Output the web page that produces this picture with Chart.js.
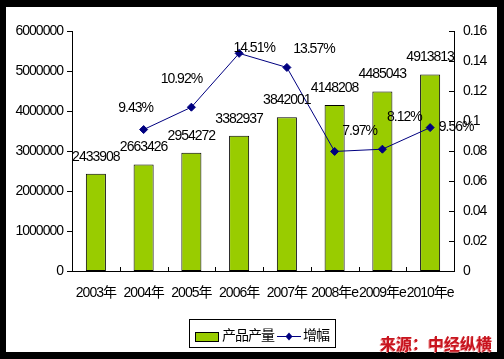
<!DOCTYPE html>
<html>
<head>
<meta charset="utf-8">
<script src="https://cdn.jsdelivr.net/npm/chart.js@4.4.1/dist/chart.umd.min.js"></script>
<style>
  html, body { margin: 0; padding: 0; background: #000; }
  canvas { display: block; }
</style>
</head>
<body>
<canvas id="chart" width="504" height="359"></canvas>
<script>
// --- Data ---
const years = ['2003年', '2004年', '2005年', '2006年', '2007年', '2008年e', '2009年e', '2010年e'];
const output = [2433908, 2663426, 2954272, 3382937, 3842001, 4148208, 4485043, 4913813];
const growth = [null, 0.0943, 0.1092, 0.1451, 0.1357, 0.0797, 0.0812, 0.0956];
const leftTicks = [0, 1000000, 2000000, 3000000, 4000000, 5000000, 6000000];
const rightTicks = [0, 0.02, 0.04, 0.06, 0.08, 0.1, 0.12, 0.14, 0.16];

// label nudges for the growth line (dx, dy from the point), as placed in the original
const growthLabelShift = [null, [-8, -21], [-10, -28], [15, -5], [27, -18], [25, -20], [22, -32], [26, 0]];

const FONT = '"Liberation Sans", Arial, "Noto Sans CJK SC", sans-serif';
const GREEN = '#99cc00';
const NAVY = '#000080';

// --- Plugins ---
const framePlugin = {
    id: 'frame',
    beforeDraw(chart) {
        const ctx = chart.ctx;
        ctx.save();
        ctx.fillStyle = '#000';
        ctx.fillRect(0, 0, chart.width, chart.height);
        ctx.fillStyle = '#fff';
        ctx.fillRect(6, 7, 491, 345);
        ctx.restore();
        ctx.letterSpacing = '-1px';
    }
};

const tickMarks = {
    id: 'tickMarks',
    afterDraw(chart) {
        const ctx = chart.ctx;
        const { y, y1, x } = chart.scales;
        const area = chart.chartArea;
        ctx.save();
        ctx.strokeStyle = '#000';
        ctx.lineWidth = 1;
        ctx.beginPath();
        // left axis: outside
        y.ticks.forEach(t => {
            const py = Math.round(y.getPixelForValue(t.value)) + 0.5;
            ctx.moveTo(area.left - 5, py); ctx.lineTo(area.left, py);
        });
        // right axis: inside
        y1.ticks.forEach(t => {
            const py = Math.round(y1.getPixelForValue(t.value)) + 0.5;
            ctx.moveTo(area.right - 5, py); ctx.lineTo(area.right, py);
        });
        // category axis: inside, at category boundaries
        const half = (x.getPixelForValue(1) - x.getPixelForValue(0)) / 2;
        for (let i = 1; i <= years.length; i++) {
            const px = Math.round(x.getPixelForValue(i) - half) + 0.5;
            ctx.moveTo(px, area.bottom - 4); ctx.lineTo(px, area.bottom);
        }
        ctx.stroke();
        ctx.restore();
    }
};

const valueLabels = {
    id: 'valueLabels',
    afterDatasetsDraw(chart) {
        const ctx = chart.ctx;
        ctx.save();
        ctx.font = '14px ' + FONT;
        ctx.fillStyle = '#000';
        ctx.textAlign = 'center';
        ctx.textBaseline = 'middle';
        chart.getDatasetMeta(0).data.forEach((bar, i) => {
            ctx.fillText(String(output[i]), bar.x, bar.y - 17);
        });
        chart.getDatasetMeta(1).data.forEach((pt, i) => {
            if (growth[i] == null) return;
            const [dx, dy] = growthLabelShift[i];
            ctx.fillText((growth[i] * 100).toFixed(2) + '%', pt.x + dx, pt.y + dy);
        });
        ctx.restore();
    }
};

const legendBox = {
    id: 'legendBox',
    afterDraw(chart) {
        const ctx = chart.ctx;
        ctx.save();
        ctx.strokeStyle = '#000';
        ctx.lineWidth = 1;
        ctx.strokeRect(189.5, 319.5, 146, 28);
        // bar swatch
        ctx.fillStyle = GREEN;
        ctx.fillRect(195, 332, 23, 9);
        ctx.strokeRect(195.5, 332.5, 23, 9);
        // line swatch
        ctx.strokeStyle = NAVY;
        ctx.beginPath();
        ctx.moveTo(277, 336.5); ctx.lineTo(301, 336.5);
        ctx.stroke();
        ctx.fillStyle = NAVY;
        ctx.beginPath();
        ctx.moveTo(289, 332.5); ctx.lineTo(292.5, 336.5); ctx.lineTo(289, 340.5); ctx.lineTo(285.5, 336.5);
        ctx.closePath();
        ctx.fill();
        // texts
        ctx.fillStyle = '#000';
        ctx.font = '14px ' + FONT;
        ctx.textAlign = 'left';
        ctx.textBaseline = 'middle';
        ctx.fillText(chart.data.datasets[0].label, 222, 336);
        ctx.fillText(chart.data.datasets[1].label, 303, 336);
        // source note
        ctx.letterSpacing = '0px';
        ctx.font = 'bold 16px "Noto Sans CJK SC", sans-serif';
        ctx.shadowColor = 'rgba(235,140,140,0.9)';
        ctx.shadowOffsetX = -1;
        ctx.shadowOffsetY = 1;
        ctx.fillStyle = '#c8141e';
        ctx.fillText('来源：中经纵横', 380, 344);
        ctx.restore();
    }
};

// --- Chart ---
new Chart(document.getElementById('chart'), {
    data: {
        labels: years,
        datasets: [
            {
                type: 'bar', label: '产品产量', data: output, yAxisID: 'y', order: 1,
                backgroundColor: GREEN, borderColor: '#000', borderWidth: 1, borderSkipped: false,
                categoryPercentage: 1, barPercentage: 0.42
            },
            {
                type: 'line', label: '增幅', data: growth, yAxisID: 'y1', order: 0,
                borderColor: NAVY, borderWidth: 1, backgroundColor: NAVY,
                pointStyle: 'rectRot', pointRadius: 4, pointBackgroundColor: NAVY, pointBorderColor: NAVY,
                tension: 0, spanGaps: false
            }
        ]
    },
    options: {
        responsive: false,
        animation: false,
        layout: { padding: { top: 31, left: 0, right: 0, bottom: 0 } },
        plugins: { legend: { display: false }, tooltip: { enabled: false }, title: { display: false } },
        scales: {
            x: {
                offset: true,
                grid: { display: false, drawTicks: false },
                border: { display: true, color: '#000', width: 1 },
                ticks: { color: '#000', font: { family: FONT, size: 14 }, padding: 14, autoSkip: false, maxRotation: 0, minRotation: 0 },
                afterFit: s => { s.height = 88; }
            },
            y: {
                position: 'left', min: 0, max: 6000000,
                grid: { display: false, drawTicks: false },
                border: { display: true, color: '#000', width: 1 },
                afterBuildTicks: s => { s.ticks = leftTicks.map(v => ({ value: v })); },
                ticks: { color: '#000', font: { family: FONT, size: 14 }, padding: 9, callback: v => String(v) },
                afterFit: s => { s.width = 72; }
            },
            y1: {
                position: 'right', min: 0, max: 0.16,
                grid: { display: false, drawTicks: false },
                border: { display: true, color: '#000', width: 1 },
                afterBuildTicks: s => { s.ticks = rightTicks.map(v => ({ value: v })); },
                ticks: { color: '#000', font: { family: FONT, size: 14 }, padding: 9, callback: v => String(Number(v.toFixed(2))) },
                afterFit: s => { s.width = 50; }
            }
        }
    },
    plugins: [framePlugin, tickMarks, valueLabels, legendBox]
});
</script>
</body>
</html>
